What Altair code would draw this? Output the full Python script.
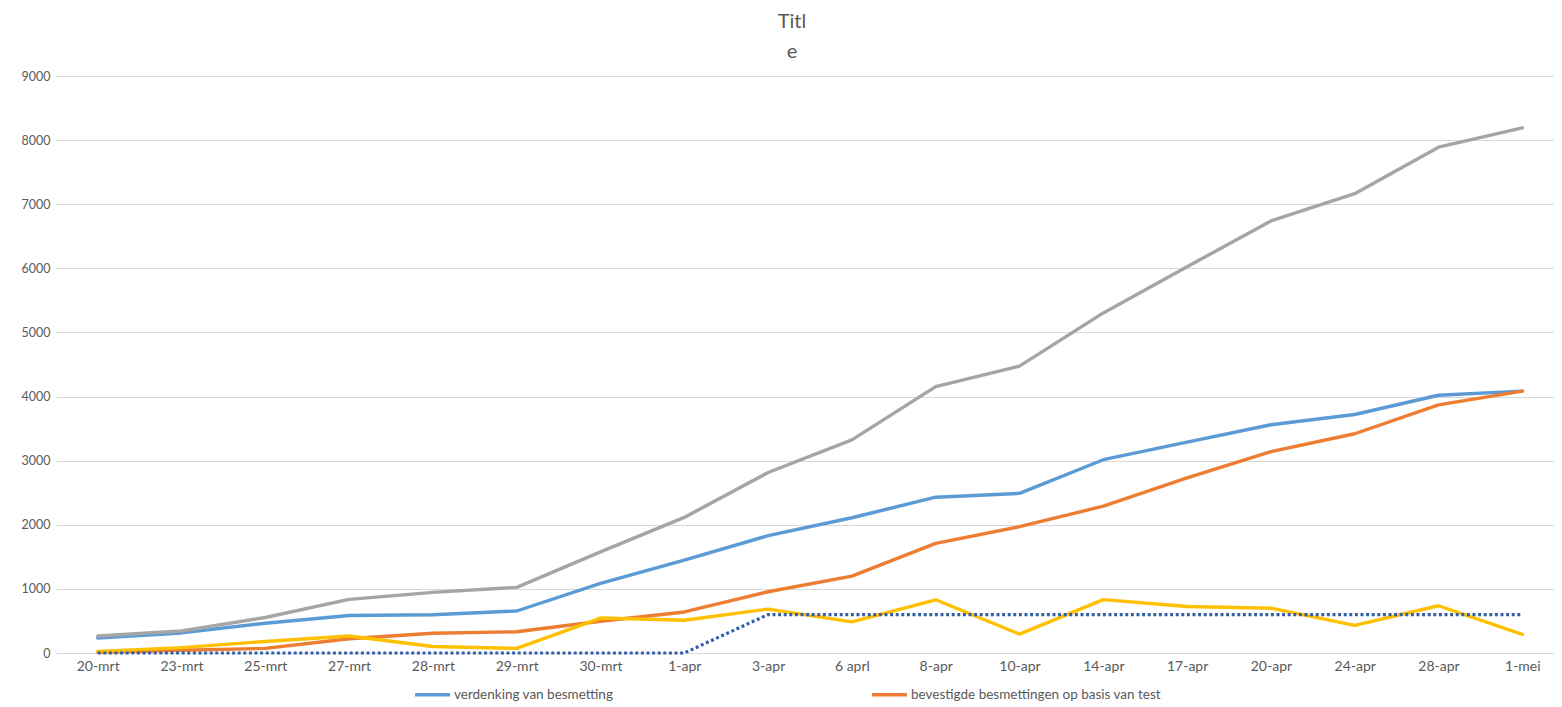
import altair as alt
import pandas as pd

dates = ["20-mrt", "23-mrt", "25-mrt", "27-mrt", "28-mrt", "29-mrt", "30-mrt", "1-apr", "3-apr",
         "6 aprl", "8-apr", "10-apr", "14-apr", "17-apr", "20-apr", "24-apr", "28-apr", "1-mei"]

verdenking = [235, 313, 464, 584, 596, 655, 1085, 1450, 1830, 2110, 2430, 2490, 3015, 3290, 3560, 3720, 4020, 4085]
bevestigd = [12, 42, 72, 222, 307, 331, 495, 640, 955, 1200, 1710, 1970, 2290, 2730, 3140, 3420, 3870, 4085]
reeks3 = [265, 343, 554, 837, 946, 1024, 1578, 2115, 2815, 3325, 4155, 4475, 5305, 6025, 6740, 7165, 7890, 8192]
reeks4 = [24, 84, 180, 265, 102, 72, 545, 510, 685, 485, 830, 295, 833, 726, 699, 430, 737, 290]
reeks5 = [0, 0, 0, 0, 0, 0, 0, 0, 600, 600, 600, 600, 600, 600, 600, 600, 600, 600]

names = ["verdenking van besmetting", "bevestigde besmettingen op basis van test", "reeks 3", "reeks 4"]
colors = ["#5B9BD5", "#ED7D31", "#A5A5A5", "#FFC000"]

rows = []
for s, (name, vals) in enumerate(zip(names, [verdenking, bevestigd, reeks3, reeks4])):
    for i, (d, v) in enumerate(zip(dates, vals)):
        rows.append({"pos": i, "datum": d, "reeks": name, "aantal": v, "volg": s})
df = pd.DataFrame(rows)
df5 = pd.DataFrame({"pos": list(range(len(dates))), "datum": dates, "aantal": reeks5})

FONT = "Lato"
TXT = "#595959"

label_array = "[" + ",".join("'" + d + "'" for d in dates) + "]"

x_enc = alt.X(
    "pos:Q",
    scale=alt.Scale(domain=[-0.4976, 17.378], nice=False, zero=False),
    axis=alt.Axis(title=None, labelAngle=0, grid=False, domain=False, ticks=False,
                  values=list(range(len(dates))), labelExpr=label_array + "[datum.value]",
                  labelFont=FONT, labelFontSize=14, labelColor=TXT, labelPadding=6,
                  labelFlush=False, labelOverlap=False),
)
y_enc = alt.Y(
    "aantal:Q",
    scale=alt.Scale(domain=[0, 9000], nice=False),
    axis=alt.Axis(title=None, values=list(range(0, 9001, 1000)), format="d", domain=False, ticks=False,
                  gridColor="#D9D9D9", gridWidth=1, labelFont=FONT, labelFontSize=12.5,
                  labelColor=TXT, labelPadding=6),
)

lines = alt.Chart(df).mark_line(strokeWidth=3.4, strokeJoin="round", strokeCap="round").encode(
    x=x_enc,
    y=y_enc,
    color=alt.Color(
        "reeks:N",
        scale=alt.Scale(domain=names, range=colors),
        legend=alt.Legend(
            title=None, orient="none", legendX=357, legendY=599, direction="horizontal",
            values=names[:2], symbolType="stroke", symbolSize=1225, symbolStrokeWidth=3.5,
            labelFont=FONT, labelFontSize=13.5, labelColor=TXT, columnPadding=251,
            labelOffset=2, padding=0, labelLimit=0,
        ),
    ),
    detail="volg:O",
)

dotted = alt.Chart(df5).mark_line(strokeWidth=3.2, strokeDash=[3, 2.6], color="#3360A8").encode(
    x=x_enc,
    y=y_enc,
)

chart = alt.layer(lines, dotted).properties(
    width=1498,
    height=577,
    autosize=alt.AutoSizeParams(type="none"),
    padding={"left": 48, "top": 68, "right": 0, "bottom": 48},
    title=alt.TitleParams("Titl", subtitle="e", fontSize=20, font=FONT, fontWeight="normal",
                          color=TXT, subtitleFont=FONT, subtitleFontSize=20, subtitleColor=TXT,
                          subtitleFontWeight="normal", subtitlePadding=10, offset=8, dx=-13,
                          anchor="middle"),
).configure_view(stroke=None)

chart.save("out.html", embed_options={"renderer": "svg", "actions": False})
